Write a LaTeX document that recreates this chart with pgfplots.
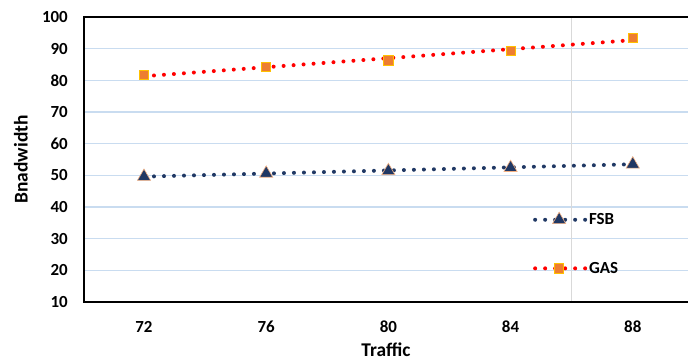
\documentclass[border=0pt]{standalone}
\usepackage{pgfplots}
\pgfplotsset{compat=1.18}
\usepackage{fontspec}
\setmainfont{Carlito}
\definecolor{navy}{HTML}{203864}
\definecolor{triedge}{HTML}{F4B183}
\definecolor{sqfill}{HTML}{ED7D31}
\definecolor{sqedge}{HTML}{FFC000}
\definecolor{trred}{HTML}{FF0000}
\definecolor{gridblue}{HTML}{C9DCF0}
\definecolor{vgray}{HTML}{D9D9D9}
\tikzset{dotline/.style={line width=4bp, line cap=round, dash pattern=on 0bp off 10bp}}
\begin{document}
\begin{tikzpicture}
\begin{axis}[
  scale only axis, width=604bp, height=285bp,
  xmin=-0.491, xmax=4.452, ymin=10, ymax=100,
  xtick={0,1,2,3,4}, xticklabels={72,76,80,84,88},
  ytick={10,20,30,40,50,60,70,80,90,100},
  ymajorgrids, grid style={gridblue, line width=1.5bp},
  axis line style={draw=none},
  tick style={draw=none},
  tick label style={font=\bfseries\fontsize{17}{20}\selectfont, inner sep=0pt},
  /pgf/number format/assume math mode=true,
  yticklabel style={xshift=-16bp},
  xticklabel style={yshift=-19bp},
  xlabel={Traffic}, ylabel={Bnadwidth},
  every axis x label/.style={at={(rel axis cs:0.5,0)}, yshift=-48bp, anchor=center,
    font=\bfseries\fontsize{19.5}{22}\selectfont},
  every axis y label/.style={at={(rel axis cs:0,0.5)}, xshift=-63bp, rotate=90, anchor=center,
    font=\bfseries\fontsize{19.5}{22}\selectfont},
  legend style={at={(axis cs:3.183,28.3)}, anchor=west, draw=none, fill=none, inner sep=0pt,
    row sep=32bp, font=\bfseries\fontsize{17}{20}\selectfont},
  legend cell align=left,
  clip=false,
]
\draw[vgray, line width=1.5bp] (axis cs:3.5,10) -- (axis cs:3.5,100);

% FSB trendline
\addplot[forget plot, navy, dotline, mark=none] coordinates {(0,49.6) (4,53.5)};
% FSB points
\addplot[only marks, mark=triangle*, mark size=7.6bp, mark options={fill=navy, draw=triedge, line width=0.6bp, solid},
  legend image code/.code={
    \draw[navy, dotline] (0bp,0bp) -- (50bp,0bp);
    \draw[fill=navy, draw=triedge, line width=0.6bp, solid] plot[only marks, mark=triangle*, mark size=7.6bp] coordinates {(24bp,0bp)};
  }]
  coordinates {(0,49.6) (1,50.6) (2,51.4) (3,52.4) (4,53.5)};
\addlegendentry{FSB}

% GAS trendline
\addplot[forget plot, trred, dotline, mark=none] coordinates {(0,81.3) (4,92.7)};
% GAS points
\addplot[only marks, mark=square*, mark size=4.6bp, mark options={fill=sqfill, draw=sqedge, line width=0.8bp, solid},
  legend image code/.code={
    \draw[trred, dotline] (0bp,0bp) -- (50bp,0bp);
    \draw[fill=sqfill, draw=sqedge, line width=0.8bp, solid] plot[only marks, mark=square*, mark size=4.6bp] coordinates {(24bp,0bp)};
  }]
  coordinates {(0,81.6) (1,84.3) (2,86.3) (3,89.3) (4,93.3)};
\addlegendentry{GAS}

\draw[black, line width=2.2bp] (rel axis cs:1,1) -- (rel axis cs:0,1) -- (rel axis cs:0,0) -- (rel axis cs:1,0);
\end{axis}
\pgfresetboundingbox
\path (-84bp,-59bp) rectangle (604bp,302bp);
\end{tikzpicture}
\end{document}
